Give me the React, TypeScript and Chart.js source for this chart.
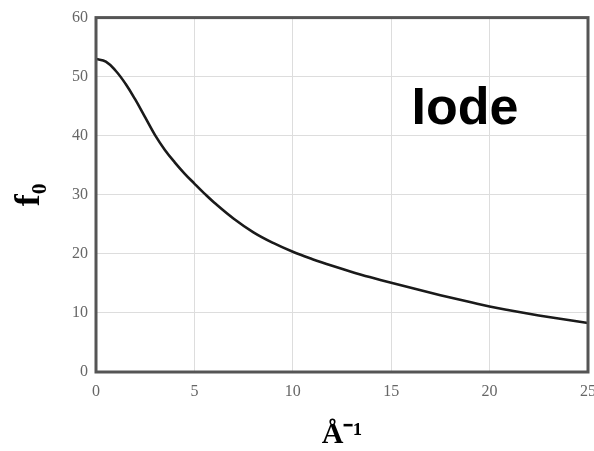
import React, { useEffect, useRef } from "react";
import { Chart, registerables } from "chart.js";

Chart.register(...registerables);

const qValues: number[] = [0, 0.5, 1, 1.5, 2, 2.5, 3, 3.5, 4, 4.5, 5, 5.5, 6, 7, 8, 9, 10, 11, 12, 13, 14, 15, 16, 17, 18, 19, 20, 21, 22, 23, 24, 25];
const f0Values: number[] = [53.0, 52.55, 51.0, 48.8, 46.1, 43.1, 40.1, 37.6, 35.5, 33.6, 31.9, 30.25, 28.7, 25.95, 23.65, 21.85, 20.35, 19.1, 17.98, 16.95, 16.0, 15.1, 14.25, 13.4, 12.6, 11.85, 11.1, 10.45, 9.85, 9.3, 8.8, 8.3];
const xTitle = "Å⁻¹";
const yTitle = "f₀";
const elementLabel = "Iode";
const labelPos = { x: 18.75, y: 42 };

const framePlugin = {
  id: "frameAndLabel",
  afterDatasetsDraw(chart: any) {
    const { ctx, chartArea, scales } = chart;
    ctx.save();
    ctx.strokeStyle = "#555555";
    ctx.lineWidth = 3;
    ctx.strokeRect(chartArea.left, chartArea.top, chartArea.right - chartArea.left, chartArea.bottom - chartArea.top);
    ctx.fillStyle = "#000000";
    ctx.font = "bold 52px 'Liberation Sans', Arial, sans-serif";
    ctx.textAlign = "center";
    ctx.textBaseline = "alphabetic";
    ctx.fillText(elementLabel, scales.x.getPixelForValue(labelPos.x), scales.y.getPixelForValue(labelPos.y));
    ctx.restore();
  },
};

export default function App() {
  const canvasRef = useRef<HTMLCanvasElement | null>(null);

  useEffect(() => {
    if (!canvasRef.current) return;
    const chart = new Chart(canvasRef.current, {
      type: "line",
      data: {
        datasets: [
          {
            label: elementLabel,
            data: qValues.map((q, i) => ({ x: q, y: f0Values[i] })),
            borderColor: "#1a1a1a",
            borderWidth: 2.6,
            pointRadius: 0,
            fill: false,
            tension: 0.4,
          },
        ],
      },
      options: {
        animation: false,
        responsive: true,
        maintainAspectRatio: false,
        layout: { padding: { top: 16, right: 0, left: 0, bottom: 0 } },
        plugins: {
          legend: { display: false },
          tooltip: { enabled: false },
        },
        scales: {
          x: {
            type: "linear",
            min: 0,
            max: 25,
            border: { display: false },
            grid: { color: "#dddddd", lineWidth: 1, drawTicks: false },
            ticks: {
              stepSize: 5,
              color: "#666666",
              padding: 10,
              font: { family: "'Liberation Serif', 'Times New Roman', serif", size: 16 },
            },
            title: {
              display: true,
              text: xTitle,
              color: "#000000",
              font: { family: "'Liberation Serif', 'Times New Roman', serif", size: 30, weight: "bold", lineHeight: 1 },
              padding: { top: 0, bottom: 1 },
            },
            afterFit(scale: any) {
              scale.height = 79;
              scale.paddingRight = 6;
            },
          },
          y: {
            type: "linear",
            min: 0,
            max: 60,
            border: { display: false },
            grid: { color: "#dddddd", lineWidth: 1, drawTicks: false },
            ticks: {
              stepSize: 10,
              color: "#666666",
              padding: 8,
              font: { family: "'Liberation Serif', 'Times New Roman', serif", size: 16 },
            },
            title: {
              display: true,
              text: yTitle,
              color: "#000000",
              font: { family: "'Liberation Serif', 'Times New Roman', serif", size: 36, weight: "bold", lineHeight: 1 },
              padding: { top: 12, bottom: 0 },
            },
            afterFit(scale: any) {
              scale.width = 96;
            },
          },
        },
      },
      plugins: [framePlugin],
    });
    return () => chart.destroy();
  }, []);

  return (
    <div style={{ position: "absolute", left: 0, top: 0, width: 594, height: 451, background: "#ffffff" }}>
      <canvas ref={canvasRef} />
    </div>
  );
}
